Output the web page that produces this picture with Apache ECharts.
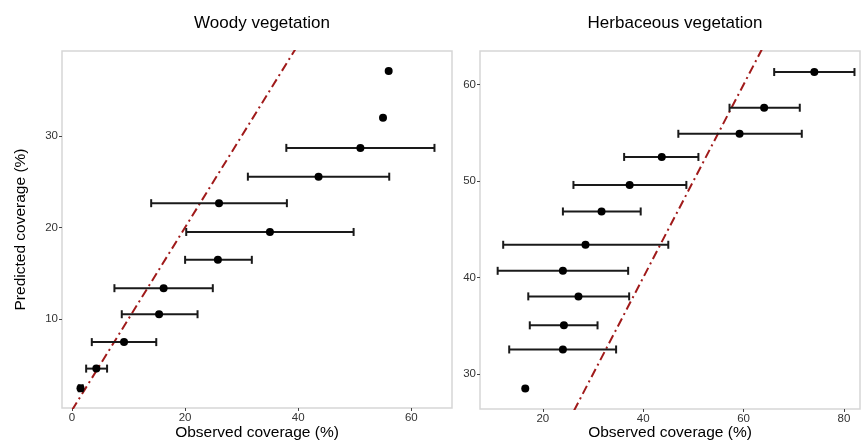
<!DOCTYPE html>
<html lang="en">
<head>
  <meta charset="UTF-8">
  <title>Observed vs predicted coverage</title>
  <script src="https://cdn.jsdelivr.net/npm/echarts@6.0.0/dist/echarts.min.js"></script>
  <style>
    html, body { margin: 0; padding: 0; background: #fff; }
  </style>
</head>
<body>
<div id="chart" style="width: 861px; height: 444px;"></div>

<script>
  var chart = echarts.init(document.getElementById('chart'));

  // woody vegetation: observed mean, predicted, observed range
  var woodyObs  = [56.0, 55.0, 51.0, 43.6, 26.0, 35.0, 25.8, 16.2, 15.4, 9.2, 4.3, 1.5];
  var woodyPred = [37.1, 32.0, 28.7, 25.55, 22.65, 19.5, 16.45, 13.35, 10.5, 7.45, 4.55, 2.4];
  var woodyLow  = [null, null, 37.9, 31.1, 14.0, 20.2, 20.0, 7.5, 8.8, 3.5, 2.5, 1.2];
  var woodyHigh = [null, null, 64.1, 56.1, 38.0, 49.8, 31.8, 24.9, 22.2, 14.9, 6.2, 1.9];

  // herbaceous vegetation
  var herbObs  = [74.1, 64.1, 59.2, 43.7, 37.3, 31.7, 28.5, 24.0, 27.1, 24.2, 24.0, 16.5];
  var herbPred = [61.3, 57.6, 54.9, 52.5, 49.6, 46.85, 43.4, 40.7, 38.05, 35.05, 32.55, 28.5];
  var herbLow  = [66.1, 57.2, 47.0, 36.2, 26.1, 24.0, 12.1, 11.0, 17.1, 17.4, 13.3, null];
  var herbHigh = [82.1, 71.2, 71.6, 51.0, 48.6, 39.5, 45.0, 37.0, 37.2, 30.9, 34.6, null];

  // 1:1 line
  var oneToOne = [[0, 0], [100, 100]];

  // tick labels
  var woodyXTicks = [0, 20, 40, 60];
  var woodyYTicks = [10, 20, 30];
  var herbXTicks = [20, 40, 60, 80];
  var herbYTicks = [30, 40, 50, 60];

  var font = 'Liberation Sans, Arial, sans-serif';

  function pairs(xs, ys) {
    return xs.map(function (x, i) { return [x, ys[i]]; });
  }
  function bars(ys, lo, hi) {
    var out = [];
    ys.forEach(function (y, i) {
      if (lo[i] != null) out.push([lo[i], hi[i], y]);
    });
    return out;
  }

  function errorBar(params, api) {
    var y = api.value(2);
    var a = api.coord([api.value(0), y]);
    var b = api.coord([api.value(1), y]);
    var h = 4;
    var st = { stroke: '#1a1a1a', lineWidth: 2 };
    return {
      type: 'group',
      children: [
        { type: 'line', shape: { x1: a[0], y1: a[1], x2: b[0], y2: b[1] }, style: st },
        { type: 'line', shape: { x1: a[0], y1: a[1] - h, x2: a[0], y2: a[1] + h }, style: st },
        { type: 'line', shape: { x1: b[0], y1: b[1] - h, x2: b[0], y2: b[1] + h }, style: st }
      ]
    };
  }

  function axis(idx, min, max, ticks, name, gap) {
    return {
      type: 'value', gridIndex: idx, min: min, max: max,
      name: name, nameLocation: 'middle', nameGap: gap, nameMoveOverlap: false,
      nameTextStyle: { fontSize: 15.5, color: '#000', fontFamily: font },
      axisLine: { show: false, onZero: false },
      splitLine: { show: false },
      axisTick: { show: true, length: 3, lineStyle: { color: '#444' }, customValues: ticks },
      axisLabel: { fontSize: 11.5, color: '#333', fontFamily: font, margin: 4, customValues: ticks }
    };
  }

  var lineStyle = { color: '#a01a1a', width: 2, type: [9, 4, 2, 4] };
  var titleStyle = { fontSize: 17, fontWeight: 'normal', color: '#000', fontFamily: font };

  var option = {
    backgroundColor: '#fff',
    animation: false,
    title: [
      { text: 'Woody vegetation', left: 257, top: 10, textAlign: 'center', textStyle: titleStyle },
      { text: 'Herbaceous vegetation', left: 670, top: 10, textAlign: 'center', textStyle: titleStyle }
    ],
    grid: [
      { left: 62, top: 51, width: 390, height: 357, outerBoundsMode: 'none',
        show: true, borderColor: '#d6d6d6', borderWidth: 1.5 },
      { left: 480, top: 51, width: 380, height: 358, outerBoundsMode: 'none',
        show: true, borderColor: '#d6d6d6', borderWidth: 1.5 }
    ],
    xAxis: [
      axis(0, -1.77, 67.2, woodyXTicks, 'Observed coverage (%)', 17),
      axis(1, 7.48, 83.2, herbXTicks, 'Observed coverage (%)', 16)
    ],
    yAxis: [
      axis(0, 0.24, 39.3, woodyYTicks, 'Predicted coverage (%)', 33),
      axis(1, 26.38, 63.48, herbYTicks, '', 30)
    ],
    series: [
      { type: 'line', xAxisIndex: 0, yAxisIndex: 0, data: oneToOne, symbol: 'none',
        lineStyle: lineStyle, clip: true, z: 1 },
      { type: 'line', xAxisIndex: 1, yAxisIndex: 1, data: oneToOne, symbol: 'none',
        lineStyle: lineStyle, clip: true, z: 1 },
      { type: 'custom', xAxisIndex: 0, yAxisIndex: 0, renderItem: errorBar,
        data: bars(woodyPred, woodyLow, woodyHigh), z: 2 },
      { type: 'custom', xAxisIndex: 1, yAxisIndex: 1, renderItem: errorBar,
        data: bars(herbPred, herbLow, herbHigh), z: 2 },
      { type: 'scatter', xAxisIndex: 0, yAxisIndex: 0, data: pairs(woodyObs, woodyPred),
        symbolSize: 8, itemStyle: { color: '#000', opacity: 1 }, z: 3 },
      { type: 'scatter', xAxisIndex: 1, yAxisIndex: 1, data: pairs(herbObs, herbPred),
        symbolSize: 8, itemStyle: { color: '#000', opacity: 1 }, z: 3 }
    ]
  };

  chart.setOption(option);
</script>
</body>
</html>
